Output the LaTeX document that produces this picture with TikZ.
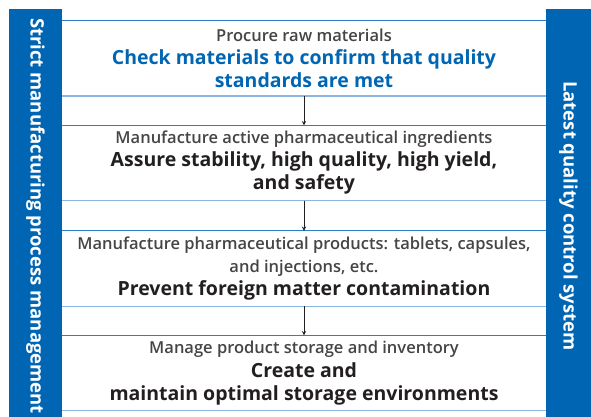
\documentclass[tikz,border=0pt]{standalone}
\usepackage{fontspec}
\setmainfont{Open Sans}
\IfFontExistsTF{Open Sans Light}{\newfontfamily\lightfont{Open Sans Light}}{\newcommand{\lightfont}{\mdseries}}
\usepackage{tikz}
\usetikzlibrary{arrows,shapes,positioning}
\usepackage{xcolor}
\definecolor{qcblue}{RGB}{0,102,179}
\definecolor{qcline}{RGB}{45,125,200}
\definecolor{qclight}{RGB}{140,182,226}
\definecolor{qcdark}{RGB}{35,31,32}
\definecolor{qcgrey}{RGB}{70,68,70}
\newcommand{\smalltxt}{\fontsize{16.5}{21}\selectfont\lightfont\color{qcgrey}}
\newcommand{\boldtxt}{\fontsize{19.5}{23}\selectfont\bfseries}
\tikzstyle{arrow} = [line width=0.9pt,->,>=stealth,color=qcdark]
\tikzstyle{sidebar} = [rectangle, fill=qcblue, text=white, inner sep=0pt, rotate=-90, font=\fontsize{18.5}{22}\selectfont\bfseries]
\tikzstyle{stepbox} = [rectangle, minimum width=484pt, minimum height=75pt, inner sep=0pt, align=center, text=qcdark, font=\boldtxt]
\tikzstyle{topline} = [line width=1.2pt, color=qcline]
\tikzstyle{botline} = [line width=1.4pt, color=qclight]

\begin{document}
\begin{tikzpicture}[x=1pt, y=-1pt]
    \useasboundingbox (0,0) rectangle (591,417);

    % side bars
    \fill[qcblue] (9,9) rectangle (62,417);
    \fill[qcblue] (546,9) rectangle (591,417);
    \node[sidebar] (left) at (35.5,216) {Strict manufacturing process management};
    \node[sidebar] (right) at (568.5,216) {Latest quality control system};

    % steps
    \node[stepbox] (raw) at (304,58.5) {{\smalltxt Procure raw materials}\\
        {\color{qcblue}Check materials to confirm that quality}\\{\color{qcblue}standards are met}};
    \node[stepbox] (api) at (304,163) {{\smalltxt Manufacture active pharmaceutical ingredients}\\
        Assure stability, high quality, high yield,\\and safety};
    \node[stepbox] (prod) at (304,268.5) {{\smalltxt Manufacture pharmaceutical products: tablets, capsules,}\\
        {\smalltxt and injections, etc.}\\
        Prevent foreign matter contamination};
    \node[stepbox] (store) at (304,373) {{\smalltxt Manage product storage and inventory}\\[1pt]
        Create and\\maintain optimal storage environments};

    % lines
    \foreach \s in {raw,api,prod,store} {
        \draw[topline] (\s.north west) -- (\s.north east);
        \draw[botline] (\s.south west) -- (\s.south east);
    }

    % Arrows
    \draw[arrow] (raw.south) -- (api.north);
    \draw[arrow] (api.south) -- (prod.north);
    \draw[arrow] (prod.south) -- (store.north);
\end{tikzpicture}
\end{document}
